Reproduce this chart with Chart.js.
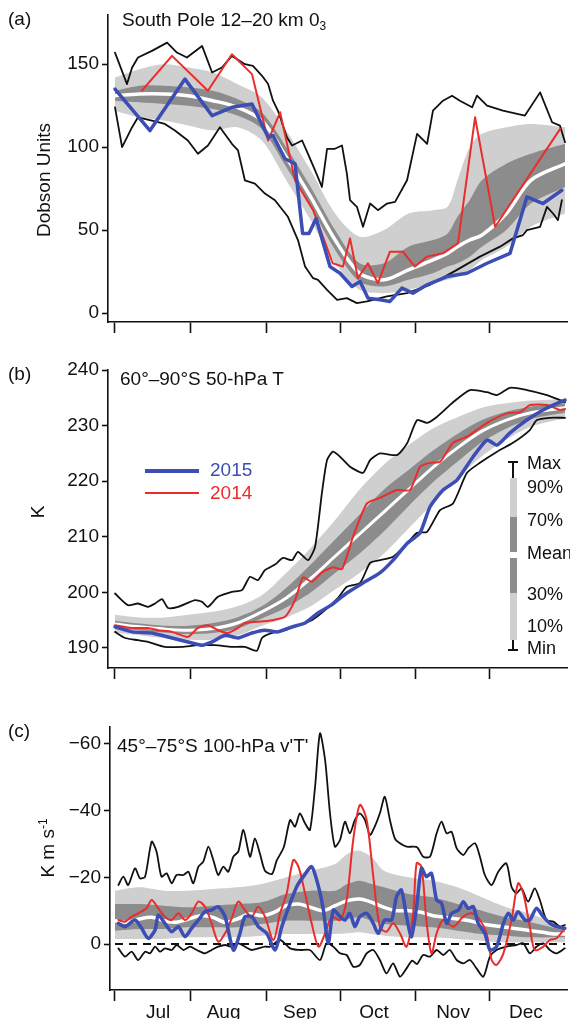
<!DOCTYPE html>
<html>
<head>
<meta charset="utf-8">
<script src="https://cdn.jsdelivr.net/npm/chart.js@4.4.1/dist/chart.umd.min.js"></script>
<style>
  body{margin:0;background:#fff;width:570px;height:1019px;overflow:hidden;position:relative;
    font-family:"Liberation Sans",Arial,sans-serif;color:#111}
  canvas{position:absolute;left:0}
  .t{position:absolute;font-size:19px;line-height:1;white-space:nowrap;transform:translateY(-50%)}
  .r{position:absolute;font-size:19px;line-height:1;white-space:nowrap;transform:translate(-50%,-50%) rotate(-90deg)}
  .t sub{font-size:12px;vertical-align:-4px}
  .r sup{font-size:12px;vertical-align:7px}
  .box{position:absolute}
</style>
</head>
<body>
<canvas id="chartA" width="570" height="340" style="top:0"></canvas>
<canvas id="chartB" width="570" height="345" style="top:340px"></canvas>
<canvas id="chartC" width="570" height="334" style="top:685px"></canvas>

<div class="t" style="left:8px;top:18px">(a)</div>
<div class="t" style="left:122px;top:21px">South Pole 12–20 km 0<sub>3</sub></div>
<div class="r" style="left:43px;top:180px">Dobson Units</div>

<div class="t" style="left:8px;top:373px">(b)</div>
<div class="t" style="left:120px;top:378px">60°–90°S 50-hPa T</div>
<div class="r" style="left:37px;top:512px">K</div>

<div class="t" style="left:8px;top:730px">(c)</div>
<div class="t" style="left:117px;top:745px">45°–75°S 100-hPa v'T'</div>
<div class="r" style="left:47px;top:848px">K m s<sup>-1</sup></div>

<!-- year legend, panel b -->
<div class="box" style="left:145px;top:469px;width:54px;height:4px;background:#3c4db4"></div>
<div class="t" style="left:210px;top:469px;color:#3c4db4">2015</div>
<div class="box" style="left:145px;top:492px;width:54px;height:2px;background:#ea2d2a"></div>
<div class="t" style="left:210px;top:492px;color:#ea2d2a">2014</div>

<!-- percentile legend, panel b -->
<div class="box" style="left:508px;top:461px;width:10px;height:2px;background:#111"></div>
<div class="box" style="left:512px;top:461px;width:2px;height:17px;background:#111"></div>
<div class="box" style="left:510px;top:478px;width:7px;height:39px;background:#cfcfcf"></div>
<div class="box" style="left:510px;top:517px;width:7px;height:35px;background:#8c8c8c"></div>
<div class="box" style="left:510px;top:558px;width:7px;height:35px;background:#8c8c8c"></div>
<div class="box" style="left:510px;top:593px;width:7px;height:47px;background:#cfcfcf"></div>
<div class="box" style="left:512px;top:640px;width:2px;height:10px;background:#111"></div>
<div class="box" style="left:508px;top:649px;width:10px;height:2px;background:#111"></div>
<div class="t" style="left:527px;top:463px;font-size:18px">Max</div>
<div class="t" style="left:527px;top:487px;font-size:18px">90%</div>
<div class="t" style="left:527px;top:520px;font-size:18px">70%</div>
<div class="t" style="left:527px;top:553px;font-size:18px">Mean</div>
<div class="t" style="left:527px;top:594px;font-size:18px">30%</div>
<div class="t" style="left:527px;top:626px;font-size:18px">10%</div>
<div class="t" style="left:527px;top:648px;font-size:18px">Min</div>

<script>
const FONT = "'Liberation Sans', Arial, sans-serif";
const BLUE = "#3c4db4", RED = "#ea2d2a", INK = "#111";
const LIGHT = "#cfcfcf", DARK = "#8c8c8c";

// x axis: days since 1 Jul
const monthTicks = [0, 31, 62, 92, 123, 153];
const monthNames = ["Jul", "Aug", "Sep", "Oct", "Nov", "Dec"];
const monthLabelDays = [17.6, 44.4, 75.6, 105.9, 138.2, 168];

// ---- (a) South Pole ozone, Dobson Units ----
const ozTicks = [0, 50, 100, 150];
const ozMaxDay = [0,4.9,7,9.4,15.1,21.3,25.3,29.4,35.6,39.7,43.7,47.8,53.1,56.4,60.1,62.6,64.6,66.6,70.3,72.4,76.5,78.9,81.8,84.6,86.7,89.9,92.8,94.8,96.1,98.9,101.4,104.3,107.5,111.2,114.5,119.4,123.5,127.6,130,134.1,137.8,141,146,148,152.1,158.6,167.6,173.8,178.7,181.9,184];
const ozMaxVal = [157,138,148,154,158,163,157,154,161,145,148,155,150,149,143,138,128,122,106,101,104,96,86,76,99,99,101,84,68,64,52,66,62,66,67,80,108,102,122,128,131,128,124,131,125,122,119,133,115,113,103];
const ozMinDay = [0,2.9,7,9.4,15.1,20.4,24.5,29.8,33.9,38,42.9,47.8,50.3,53.1,57.2,61.3,65.4,70.7,74.8,77.7,81,83,86.7,90.8,94.8,98.9,103,111.2,119.4,128.8,139.8,149.2,157.4,162.7,166.8,168.4,173.8,176.6,179.1,181.1,182.7];
const ozMinVal = [124,100,112,118,116,114,110,104,96,101,112,102,98,80,78,72,68,58,44,28,21,20,14,8,9,6,7,10,12,17,26,34,40,45,47,50,52,64,60,56,68];
const oz2014Day = [11,23.3,38,47.8,56,62.6,67.5,73.6,81,89,93.2,96.1,99.3,103.4,107.5,112.4,117.7,122.6,127.6,134.1,140.2,147.2,155.4,182];
const oz2014Val = [134,155,134,156,144,104,121,80,62,30,28,45,21,30,18,37,37,28,34,36,42,118,52,111];
const oz2015Day = [0,14.3,28.6,39.7,47.8,56,62.6,64.6,69.5,73.6,76.7,79.3,82.2,87.9,92,96.9,100.2,103.4,108.3,112.4,117.3,121.8,127.6,135.7,143.9,152.1,161.5,168.4,175,182.7];
const oz2015Val = [135,110,141,119,124,126,106,107,93,90,48,48,57,28,24,16,19,9,8,7,15,12,17,22,24,30,36,70,66,74];
const ozBandDay = [0,10,20,30,40,50,60,70,80,90,100,110,120,130,136,140,145,150,160,170,184];
const ozMean = [131,132,132,131,128,124,116,94,70,44,24,20,26,32,36,40,44,47,60,80,90];
const ozP10 = [122,118,116,113,110,112,104,80,56,30,14,12,14,18,20,22,26,32,40,52,60];
const ozP30 = [128,127,126,125,123,119,111,88,64,38,19,16,20,24,28,30,34,40,50,66,76];
const ozP70 = [134,137,137,136,134,129,121,100,76,50,30,30,40,44,48,58,68,80,90,96,102];
const ozP90 = [142,147,150,148,145,138,130,110,86,60,46,50,60,62,64,80,100,108,112,114,112];

// ---- (b) 60-90S 50-hPa temperature, K ----
const tTicks = [190, 200, 210, 220, 230, 240];
const tMaxDay = [0,5.3,9.4,13.5,16.4,19.2,21.7,25.8,32.7,35.6,38,42.1,47.8,51.9,55.2,58.4,61.3,65.4,68.7,72.4,74.8,78.9,81.8,84.6,86.7,89.1,92,96.1,101.4,104.3,108.3,115.3,119.4,123.5,127.6,131.7,138.2,145.1,152.1,156.2,161.5,168.4,176.6,181.9,184];
const tMaxVal = [199.8,197.7,198,197.4,198,198.8,197.2,197.4,198.6,198.3,197.4,199.2,200.1,200.4,202.8,202.2,204,205,206.2,205.8,207.3,205.8,208.2,217.9,223.8,225.3,224.4,222.6,221.5,223.8,225,224.7,226.8,231,230.5,231.6,234.2,236.4,236,235.5,236.8,236.4,235.5,234.6,234.2];
const tMinDay = [0,4.1,9.4,13.5,20.4,27.4,33.9,40.9,47.8,53.1,58,60.1,64.2,69.5,74.8,80.5,85.9,91.2,94.8,100.2,104.3,108.3,113.7,119.4,123.5,127.6,132.9,138.2,143.9,149.2,156.2,162.7,169.6,172.5,177.8,184];
const tMinVal = [192.9,191.8,191.4,191.1,190.2,190.2,190.5,190.5,190.2,190.2,189.5,191.8,192.7,193.2,194.1,195,196.8,199,201,201.7,205.3,205.8,206.4,208.8,210.7,210.9,214.8,216,221.5,223.3,225.3,226.9,229.2,231,231.4,231.4];
const t2014Day = [0,7,13.5,17.6,23.3,29.8,33.9,38,42.1,46.2,50.3,53.1,58.4,64.2,69.5,73.6,76.9,80.5,84.6,89.1,92.8,97.3,103,108.3,115.3,120.6,124.7,128.8,132.9,138.2,143.9,152.1,160.3,165.6,169.7,176.6,181.9,184];
const t2014Val = [194.1,193.6,193.6,193.2,192.9,192,193.6,194.1,193.2,192.7,193.6,194.5,194.7,195,195.6,198.6,202.7,201.9,203.6,204.5,204.2,210,216,217,218.4,218.4,222.6,223.3,223.5,226.9,228,230.5,232.2,232.4,233.7,233.7,232.8,233];
const t2015Day = [0,7,15.1,23.3,31.5,35.6,39.7,45,50.3,56,61.3,66.6,72.4,77.7,83,88.7,94.8,101.4,108.3,113.7,119.4,124.7,128.8,134.1,139.8,146.4,152.1,156.2,161.5,168.4,175,180.7,184];
const t2015Val = [193.8,192.9,192.7,191.8,190.9,190.5,191.1,192.3,191.8,192.7,193.2,192.9,193.8,194.5,196.3,197.8,199.9,201.7,203.5,205.8,208.8,210.7,215.4,218.4,220.2,224.4,227.4,226.5,228.7,231,232.8,234,234.6];
const tBandDay = [0,10,20,30,40,50,60,70,80,90,100,110,120,130,140,150,160,170,184];
const tMean = [194.3,193.8,193.4,193.2,193.5,194.5,196.5,199,202.5,206.5,210.5,214.5,218.5,222.5,226,229,231,232.3,233.2];
const tP10 = [192.8,192.3,191.8,191.5,191.5,192.2,194,195.5,197.5,200.5,203.5,207,211.5,216,220.5,224.5,227.5,229.8,231.3];
const tP30 = [193.7,193.2,192.8,192.5,192.7,193.5,195.3,197.3,200,203.5,207,211,215.5,219.8,223.5,227,229.5,231.2,232.3];
const tP70 = [194.9,194.4,194,194,194.5,195.5,197.5,200.8,205,209.5,214,218.5,222,225.5,228.5,231,232.5,233.4,234];
const tP90 = [196,195.5,195.5,196,196.5,197.5,199.5,203.5,208,213,218.5,223,226.5,229.5,231.5,233.2,234,234.5,234.8];

// ---- (c) 45-75S 100-hPa v'T', K m/s ----
const hfTicks = [-60, -40, -20, 0];
const hfMaxDay = [1.4,3.4,5.4,8.2,10.2,12.3,15,17,19,21.1,23.2,25.2,28,30,32,34.1,36.1,38.2,40.2,42.2,44.3,46.3,48.4,50.4,52.5,55.2,57.2,59.3,61.3,64.2,66.1,69,71.6,73.6,75.6,77.7,79.7,81.8,83.8,85.9,87.9,89.9,92,94,96,98.1,100.1,102.2,104.2,106.2,108.3,110.3,112.4,114.4,116.5,119.2,121.9,123.6,126,128.8,131.5,133.5,135.6,137.6,139.7,142.4,144.4,147.2,149.2,151.2,154,156.7,160,162.1,164.1,166.2,168.9,171.6,173.7,176.4,179.2,181.9,183.9];
const hfMaxVal = [-17.7,-20.2,-17.7,-22.7,-19.7,-20.2,-30.7,-27.7,-20.2,-21.2,-18.2,-20.7,-20.7,-21.7,-18.2,-23.2,-24.7,-29.2,-25.2,-20.7,-23.2,-21.7,-26.2,-27.7,-34.2,-26.2,-31.7,-27,-22,-21,-25,-29,-37.2,-35.2,-39.2,-36.2,-34.2,-47.2,-63.2,-55.2,-39.2,-29.2,-31.2,-36.7,-33.2,-37.2,-39.2,-37.2,-32.7,-35.2,-39.2,-44.2,-37.2,-31.7,-30.2,-29.2,-29.2,-29,-26.2,-26.2,-33.2,-36.7,-33.2,-33.7,-28.7,-26.7,-28.7,-30.2,-26.2,-20.7,-17.7,-21.7,-24.2,-17.2,-15.2,-16.7,-12.7,-16.7,-13.2,-7.2,-6.7,-5.2,-5.7];
const hfMinDay = [1.4,4.1,6.8,9.5,12.3,14.3,16.4,18.4,20.4,23.2,25.2,28,30.7,33.4,36.8,39.5,42.2,45,47.7,50.4,53.1,55.9,58.6,61.3,63.4,67.5,71.6,75.6,79.7,83.8,86.5,89.3,92,94.7,97.4,100.1,102.9,105.6,108.3,111,113.7,116.5,119.2,121.5,123.5,126,128.8,131.5,134.2,136.9,139.7,142.4,145.1,147.8,150.6,153.3,156,160,164.1,166.9,169.6,172.3,175.1,177.8,180.5,183.9];
const hfMinVal = [1.3,3.8,2.3,4.8,2.3,2.8,0.8,2.3,1.3,1.8,0.3,1.8,0.8,1.8,2.8,1.8,0.8,0.3,0.8,-0.2,0.8,1.8,1.3,0.8,0.8,-1.2,1.3,1.8,1.8,4.8,-0.2,0.8,2.8,3.3,6.8,6.3,2.8,1.8,4.8,8.8,5.8,9.8,7.3,5,6,3.3,3.8,1.8,3.3,1.8,4.8,5.8,4.8,7.3,9.8,3.8,1.8,0.8,0.3,-0.2,2.8,0.8,-0.2,1.8,2.8,1.3];
const hf2014Day = [1.4,4.1,6.8,9.5,12.9,15,17.7,20.4,23.2,25.9,28.6,31.3,34.1,36.8,39.5,42.2,45,47.7,50.4,53.1,55.9,58.6,61.3,64.8,67.5,70.2,72.9,75,77.7,80.4,83.2,85.9,88.6,92,94.7,97.4,100.1,102.9,105.6,108.3,111,113.7,116.5,119.2,121.9,123.3,125.3,127.3,129.4,131.5,134.2,138.3,142.4,145.8,149.2,151.9,154,156,158.8,162.1,164.8,166.9,169.6,171.6,175.1,177.8,180.5,183.9];
const hf2014Val = [-7.2,-6.7,-8.2,-9.2,-10.7,-13.2,-10.7,-8.2,-7.2,-9.2,-7.2,-9.2,-12.7,-11.2,-6.2,-0.7,-3.2,-7.7,-12.7,-10.2,-8.2,-11.2,-8.2,-1.2,-9.2,-15.2,-25.2,-23.2,-15.2,-6.2,0.8,-3.2,-8.2,-7.2,-13.2,-31.2,-41.7,-37.2,-20.2,-5.2,-3.7,-6.2,-3.2,0.8,-9.2,-24.2,-23.2,-7.2,2.8,-3.2,-7.2,-5.2,-8.2,-9.2,-7.2,-3.2,4.8,6.3,2.8,-7.2,-18.2,-15.2,-5.2,1.8,0.8,-1.2,-1.7,-4.7];
const hf2015Day = [1.4,4.1,8.2,10.9,13.6,16.4,17.7,20.4,23.2,25.9,28.6,31.3,34.1,36.8,39.5,42.2,45,48.4,51.1,53.1,55.9,58.6,62,65.5,68.2,71.6,74.3,77,80.4,83.2,85.2,87.2,89.3,92,94,96,98.1,100.1,102.9,105.6,107.6,110.3,113.1,115.1,117.1,119.2,121.2,123.3,125.3,127.3,129.4,131.5,133.5,135.6,137.6,140.4,142.4,144.4,146.5,148.5,151.2,153.3,156,158.8,160.8,162.8,164.8,167.6,169.6,172.3,175.1,177.8,180.5,183.9];
const hf2015Val = [-6.2,-5.2,-7.2,-4.7,-1.7,-4.2,-8.7,-6.2,-3.7,-5.2,-2.2,-4.7,-7.2,-9.7,-10.2,-11.2,-8.2,1.8,-3.2,-8.2,-8.2,-5.2,-3.2,1.8,-5.2,-12.2,-17.2,-20.2,-23.2,-17.2,-10.2,-0.2,-10.2,-8.2,-7.2,-9.2,-5.2,-8.2,-9.2,-6.2,-3.2,-7.2,-7.2,-14.2,-16.2,-8.2,-2.2,-11.2,-22.7,-20.2,-21.2,-13.2,-12.2,-6.2,-9.2,-10.2,-12.7,-10.7,-11.2,-6.2,-3.2,1.8,0.8,-6.2,-9.2,-7.2,-9.7,-7.2,-7.2,-10.7,-8.2,-6.2,-5.2,-4.7];
const hfMeanDay = [0,5,10,15,20,25,30,35,40,45,50,55,60,65,70,75,80,85,90,95,100,105,110,115,120,125,130,135,140,145,150,155,160,165,170,175,180,184];
const hfMean = [-7,-6.5,-7.5,-8,-7,-6.5,-7.5,-8.5,-8,-6.5,-7.5,-9,-8.5,-9.5,-11.5,-12,-11,-10,-11.5,-13,-13.5,-12.5,-11,-10,-10,-9.5,-8.5,-8,-7.5,-7,-6,-5.5,-5,-4.5,-4,-3.5,-3,-3];
const hfBandDay = [0,10,20,30,40,50,60,70,80,90,95,100,105,110,120,130,140,150,160,170,184];
const hfP10 = [-1.5,-1.5,-1.5,-2,-2,-2,-2.5,-3,-3,-3,-3.2,-3.5,-3,-2.5,-2,-2,-1.5,-1,-0.5,-0.5,-0.5];
const hfP30 = [-4,-4.5,-4.5,-5,-5,-5,-6,-7,-7,-7,-7.5,-8,-7,-6,-5.5,-5,-4,-3,-2.5,-2,-2];
const hfP70 = [-12,-12,-11.5,-11,-11.5,-12,-12.5,-15,-16,-16,-18,-19,-18,-17,-15,-14,-12,-10,-8,-6.5,-4];
const hfP90 = [-16,-17,-16,-16,-16.5,-17,-18,-20,-22,-24,-27,-28,-26,-22,-20,-19,-17,-14,-11,-9,-5];
const zeroDay = [0, 184];
const zeroVal = [0, 0];

function pts(days, vals){
  return days.map((d, i) => ({ x: d, y: vals[i] }));
}

function line(days, vals, color, width, order, tension, extra){
  return Object.assign({
    data: pts(days, vals), borderColor: color, borderWidth: width,
    pointRadius: 0, fill: false, order, tension,
    borderJoinStyle: "round", borderCapStyle: "round"
  }, extra || {});
}

// two datasets: upper fills down to lower
function band(days, hi, lo, color, order, tension){
  return [
    { data: pts(days, hi), borderWidth: 0, pointRadius: 0, backgroundColor: color, fill: "+1", order, tension },
    { data: pts(days, lo), borderWidth: 0, pointRadius: 0, fill: false, order, tension }
  ];
}

function xAxis(xmin, height, withLabels){
  const ticks = monthTicks.concat(withLabels ? monthLabelDays : []).sort((a, b) => a - b);
  return {
    type: "linear", min: xmin, max: 185,
    afterBuildTicks: s => { s.ticks = ticks.map(v => ({ value: v })); },
    afterFit: s => { s.height = height; },
    border: { display: true, color: INK, width: 1.6 },
    grid: {
      drawOnChartArea: false, drawTicks: true, tickLength: 11, tickWidth: 1.6,
      tickColor: c => (c.tick && monthTicks.includes(c.tick.value)) ? INK : "rgba(0,0,0,0)"
    },
    ticks: {
      autoSkip: false, maxRotation: 0, padding: 0, color: INK,
      font: { size: 19, family: FONT },
      callback: v => {
        const i = monthLabelDays.indexOf(v);
        return (withLabels && i >= 0) ? monthNames[i] : "";
      }
    }
  };
}

function yAxis(min, max, tickVals, width, reverse){
  return {
    type: "linear", min, max, reverse: !!reverse,
    afterBuildTicks: s => { s.ticks = tickVals.map(v => ({ value: v })); },
    afterFit: s => { s.width = width; },
    border: { display: true, color: INK, width: 1.6 },
    grid: { drawOnChartArea: false, drawTicks: true, tickLength: 6, tickWidth: 1.6, tickColor: INK },
    ticks: {
      padding: 3, color: INK, font: { size: 19, family: FONT },
      callback: v => v < 0 ? "\u2212" + Math.abs(v) : String(v)
    }
  };
}

function makeChart(id, datasets, x, y, padTop){
  return new Chart(document.getElementById(id), {
    type: "line",
    data: { datasets },
    options: {
      responsive: false, animation: false, devicePixelRatio: 1,
      layout: { padding: { top: padTop, right: 2.5, left: 0, bottom: 0 } },
      plugins: { legend: { display: false }, tooltip: { enabled: false } },
      scales: { x, y }
    }
  });
}

// panel (a)
makeChart("chartA", [
  ...band(ozBandDay, ozP90, ozP10, LIGHT, 10, 0.3),
  ...band(ozBandDay, ozP70, ozP30, DARK, 9, 0.3),
  line(ozBandDay, ozMean, "#ffffff", 3.5, 8, 0.3),
  line(ozMaxDay, ozMaxVal, INK, 1.8, 7, 0),
  line(ozMinDay, ozMinVal, INK, 1.8, 7, 0),
  line(oz2014Day, oz2014Val, RED, 2, 5, 0),
  line(oz2015Day, oz2015Val, BLUE, 3.5, 4, 0)
], xAxis(-2.86, 18, false), yAxis(-5.4, 180, ozTicks, 108), 13);

// panel (b)
makeChart("chartB", [
  ...band(tBandDay, tP90, tP10, LIGHT, 10, 0.3),
  ...band(tBandDay, tP70, tP30, DARK, 9, 0.3),
  line(tBandDay, tMean, "#ffffff", 3, 8, 0.3),
  line(tMaxDay, tMaxVal, INK, 1.8, 7, 0.2),
  line(tMinDay, tMinVal, INK, 1.8, 7, 0.2),
  line(t2014Day, t2014Val, RED, 2, 5, 0.2),
  line(t2015Day, t2015Val, BLUE, 3.5, 4, 0.2)
], xAxis(-2.86, 17, false), yAxis(186.4, 240, tTicks, 108), 30);

// panel (c)
makeChart("chartC", [
  ...band(hfBandDay, hfP90, hfP10, LIGHT, 10, 0.3),
  ...band(hfBandDay, hfP70, hfP30, DARK, 9, 0.3),
  line(hfMeanDay, hfMean, "#ffffff", 3.5, 8, 0.3),
  line(hfMaxDay, hfMaxVal, INK, 1.8, 7, 0.25),
  line(hfMinDay, hfMinVal, INK, 1.8, 7, 0.25),
  line(zeroDay, zeroVal, INK, 1.8, 6, 0, { borderDash: [8, 6], borderCapStyle: "butt" }),
  line(hf2014Day, hf2014Val, RED, 2, 5, 0.3),
  line(hf2015Day, hf2015Val, BLUE, 3.5, 4, 0.25)
], xAxis(-2.04, 29, true), yAxis(-65.1, 13.8, hfTicks, 110, true), 42);
</script>
</body>
</html>
